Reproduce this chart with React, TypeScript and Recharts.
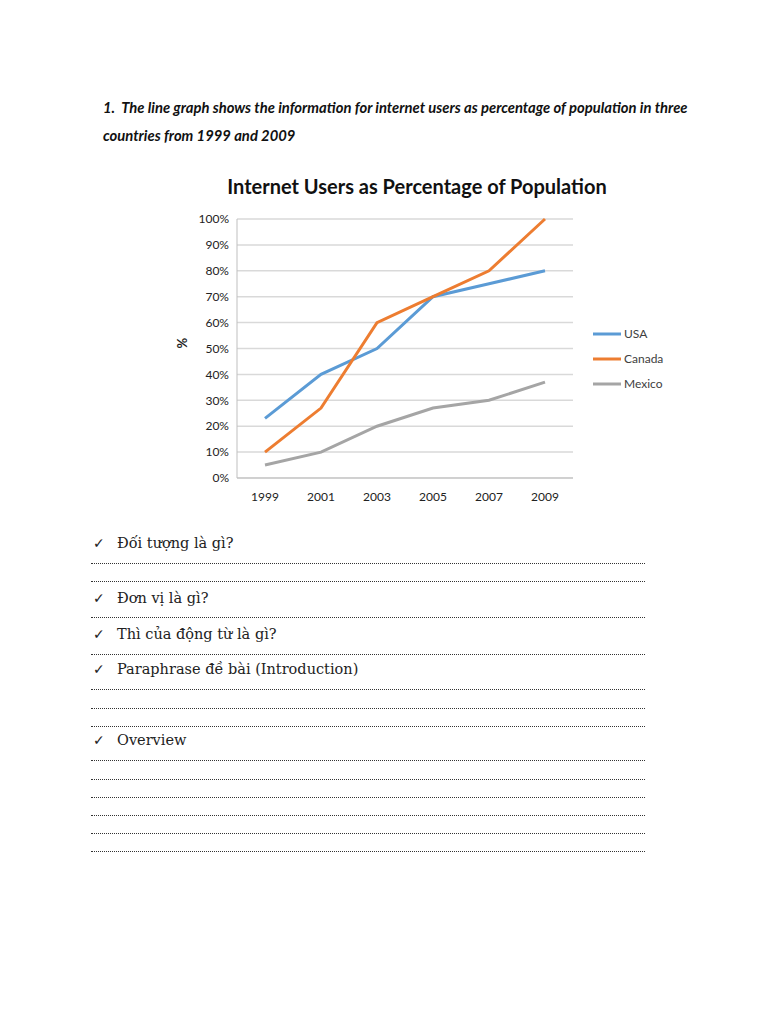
import React from 'react';
import { LineChart, Line, XAxis, YAxis, CartesianGrid, Legend } from 'recharts';

const years = ['1999', '2001', '2003', '2005', '2007', '2009'];
const usa = [23, 40, 50, 70, 75, 80];
const canada = [10, 27, 60, 70, 80, 100];
const mexico = [5, 10, 20, 27, 30, 37];
const yTicks = [0, 10, 20, 30, 40, 50, 60, 70, 80, 90, 100];
const seriesOrder = ['USA', 'Canada', 'Mexico'];

const questions = [
  { text: 'Đối tượng là gì?', y: 543, lines: [563, 581] },
  { text: 'Đơn vị là gì?', y: 598, lines: [617] },
  { text: 'Thì của động từ là gì?', y: 634, lines: [654] },
  { text: 'Paraphrase đề bài (Introduction)', y: 669, lines: [689, 708, 726] },
  { text: 'Overview', y: 740, lines: [760, 779, 797, 815, 833, 851] },
];

const data = years.map((year, i) => ({
  year,
  USA: usa[i],
  Canada: canada[i],
  Mexico: mexico[i],
}));

const chartFont = 'Lato, "Open Sans", sans-serif';

const LegendBox = (props: any) => {
  const items = [...(props.payload || [])].sort(
    (a: any, b: any) => seriesOrder.indexOf(a.value) - seriesOrder.indexOf(b.value)
  );
  return (
    <div style={{ fontFamily: chartFont, fontSize: 12, color: '#404040' }}>
      {items.map((p: any) => (
        <div key={p.value} style={{ display: 'flex', alignItems: 'center', height: 25 }}>
          <svg width={28} height={6} style={{ marginRight: 3 }}>
            <line x1={0} y1={3} x2={28} y2={3} stroke={p.color} strokeWidth={3} />
          </svg>
          <span>{p.value}</span>
        </div>
      ))}
    </div>
  );
};

export default function App() {
  return (
    <div style={{ position: 'absolute', left: 0, top: 0, width: 768, height: 1024, background: '#fff' }}>
      <div
        style={{
          position: 'absolute',
          left: 103,
          top: 93,
          width: 640,
          fontFamily: chartFont,
          fontWeight: 700,
          fontStyle: 'italic',
          fontSize: 14.8,
          lineHeight: '28px',
          color: '#111',
          whiteSpace: 'nowrap',
        }}
      >
        1.&nbsp;&nbsp;The line graph shows the information for internet users as percentage of population in three
        <br />
        countries from 1999 and 2009
      </div>

      <div
        style={{
          position: 'absolute',
          left: 117,
          width: 600,
          top: 174,
          textAlign: 'center',
          fontFamily: chartFont,
          fontWeight: 700,
          fontSize: 20,
          color: '#111',
        }}
      >
        Internet Users as Percentage of Population
      </div>

      <div style={{ position: 'absolute', left: 88, top: 160 }}>
        <LineChart width={624} height={360} data={data} margin={{ top: 59, right: 139, bottom: 12, left: 89 }}>
          <CartesianGrid vertical={false} stroke="#d9d9d9" strokeWidth={1.5} />
          <XAxis
            dataKey="year"
            height={30}
            padding={{ left: 28, right: 28 }}
            stroke="#bfbfbf"
            tickLine={false}
            tickSize={0}
            tickMargin={14}
            tick={{ fill: '#222', fontSize: 12, fontFamily: chartFont }}
          />
          <YAxis
            width={60}
            domain={[0, 100]}
            ticks={yTicks}
            tickFormatter={(v) => `${v}%`}
            stroke="#bfbfbf"
            tickLine={false}
            tickSize={0}
            tickMargin={8}
            tick={{ fill: '#222', fontSize: 12, fontFamily: chartFont }}
            label={{
              value: '%',
              angle: -90,
              position: 'insideLeft',
              offset: 5,
              fill: '#222',
              fontSize: 13,
              fontWeight: 700,
              fontFamily: chartFont,
            }}
          />
          <Legend
            layout="vertical"
            align="center"
            verticalAlign="middle"
            content={LegendBox}
            wrapperStyle={{ left: 505, top: 161, width: 110 }}
          />
          <Line dataKey="USA" stroke="#5b9bd5" strokeWidth={3} dot={false} isAnimationActive={false} />
          <Line dataKey="Canada" stroke="#ed7d31" strokeWidth={3} dot={false} isAnimationActive={false} />
          <Line dataKey="Mexico" stroke="#a5a5a5" strokeWidth={3} dot={false} isAnimationActive={false} />
        </LineChart>
      </div>

      {questions.map((q) => (
        <React.Fragment key={q.text}>
          <div
            style={{
              position: 'absolute',
              left: 93,
              top: q.y - 11,
              height: 22,
              lineHeight: '22px',
              fontFamily: '"DejaVu Serif", serif',
              fontSize: 14.5,
              color: '#222',
              whiteSpace: 'nowrap',
            }}
          >
            <span
              style={{
                display: 'inline-block',
                width: 24,
                fontFamily: '"DejaVu Sans", sans-serif',
                fontSize: 14,
              }}
            >
              ✓
            </span>
            {q.text}
          </div>
          {q.lines.map((ly) => (
            <div
              key={ly}
              style={{ position: 'absolute', left: 91, top: ly, width: 554, borderTop: '1px dotted #333' }}
            />
          ))}
        </React.Fragment>
      ))}
    </div>
  );
}
